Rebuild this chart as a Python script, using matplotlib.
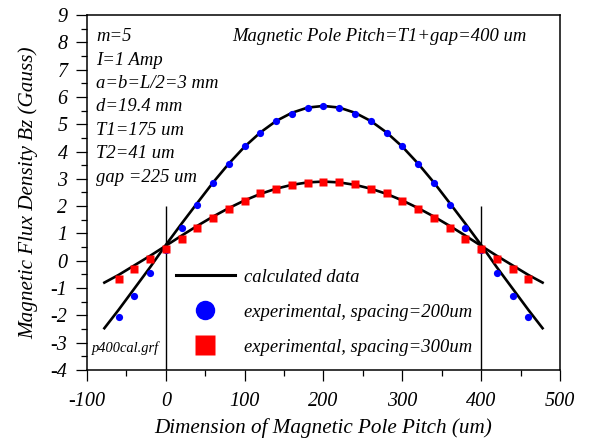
import matplotlib.pyplot as plt
from matplotlib.lines import Line2D

plt.rcParams["font.family"] = ["Liberation Serif", "DejaVu Serif"]
plt.rcParams["font.style"] = "italic"
plt.rcParams["axes.unicode_minus"] = False

# calculated curves
calc_x = [-78, -60, -40, -20, 0, 20, 40, 60, 80, 100, 120, 140, 160, 180, 200,
          220, 240, 260, 280, 300, 320, 340, 360, 380, 400, 420, 440, 460, 478]
calc_200 = [-2.47, -1.80, -1.02, -0.24, 0.58, 1.36, 2.12, 2.87, 3.56, 4.18, 4.70,
            5.12, 5.42, 5.61, 5.67, 5.61, 5.42, 5.12, 4.70, 4.18, 3.56, 2.87,
            2.12, 1.36, 0.58, -0.24, -1.02, -1.80, -2.47]
calc_300 = [-0.80, -0.52, -0.17, 0.18, 0.55, 0.92, 1.28, 1.62, 1.93, 2.21, 2.45,
            2.64, 2.78, 2.87, 2.90, 2.87, 2.78, 2.64, 2.45, 2.21, 1.93, 1.62,
            1.28, 0.92, 0.55, 0.18, -0.17, -0.52, -0.80]

# experimental points
exp_x = [-60, -40, -20, 0, 20, 40, 60, 80, 100, 120, 140, 160, 180, 200,
         220, 240, 260, 280, 300, 320, 340, 360, 380, 400, 420, 440, 460]
exp_200 = [-2.06, -1.28, -0.43, 0.40, 1.19, 2.05, 2.85, 3.56, 4.19, 4.68, 5.12,
           5.39, 5.58, 5.66, 5.58, 5.39, 5.12, 4.68, 4.19, 3.56, 2.85, 2.05,
           1.19, 0.40, -0.43, -1.28, -2.06]
exp_300 = [-0.68, -0.32, 0.07, 0.43, 0.80, 1.19, 1.57, 1.89, 2.20, 2.47, 2.64,
           2.78, 2.85, 2.90, 2.87, 2.80, 2.64, 2.47, 2.20, 1.89, 1.57, 1.19,
           0.80, 0.42, 0.07, -0.32, -0.68]

params = ["m=5", "I=1 Amp", "a=b=L/2=3 mm", "d=19.4 mm",
          "T1=175 um", "T2=41 um", "gap =225 um"]

fig = plt.figure(figsize=(5.9, 4.44), dpi=100)
ax = fig.add_axes([0.1475, 0.1667, 0.8015, 0.7995])

ax.vlines([0, 400], -4, 2, color="black", lw=1.0, zorder=1)
ax.plot(calc_x, calc_200, color="black", lw=1.9, zorder=2)
ax.plot(calc_x, calc_300, color="black", lw=1.9, zorder=2)
ax.plot(exp_x, exp_200, "o", color="blue", ms=5.2, mec="none", zorder=3)
ax.plot(exp_x, exp_300, "s", color="red", ms=6.3, mec="none", zorder=3)

ax.set_xlim(-100, 500)
ax.set_ylim(-4, 9)
ax.set_xticks(range(-100, 501, 100))
ax.set_xticks(range(-50, 500, 100), minor=True)
ax.set_yticks(range(-4, 10))
ax.set_yticks([v + 0.5 for v in range(-4, 9)], minor=True)
ax.tick_params(which="major", direction="out", length=8, width=0.9,
               labelsize=14.5, pad=6)
ax.tick_params(which="minor", direction="out", length=4.5, width=0.9)
ax.tick_params(axis="x", which="major", pad=8)
for s in ax.spines.values():
    s.set_linewidth(1.1)

ax.set_xlabel("Dimension of Magnetic Pole Pitch (um)", fontsize=15.2, labelpad=5)
ax.set_ylabel("Magnetic Flux Density Bz (Gauss)", fontsize=15.2, labelpad=9)

for i, t in enumerate(params):
    ax.text(0.019, 0.939 - i * 0.066, t, transform=ax.transAxes,
            fontsize=13.4, va="center", ha="left")
ax.text(0.930, 0.939, "Magnetic Pole Pitch=T1+gap=400 um",
        transform=ax.transAxes, fontsize=13.4, va="center", ha="right")
ax.text(0.011, 0.062, "p400cal.grf", transform=ax.transAxes,
        fontsize=10.4, va="center", ha="left")

handles = [
    Line2D([], [], color="black", lw=2.2),
    Line2D([], [], marker="o", ls="none", color="blue", ms=14, mec="none"),
    Line2D([], [], marker="s", ls="none", color="red", ms=14, mec="none"),
]
labels = ["calculated data", "experimental, spacing=200um",
          "experimental, spacing=300um"]
ax.legend(handles, labels, loc="upper left", bbox_to_anchor=(0.188, 0.285),
          frameon=False, fontsize=13.4, handlelength=3.15, handletextpad=0.5,
          labelspacing=0.96, borderpad=0, borderaxespad=0)

fig.savefig("out.png", dpi=100)
